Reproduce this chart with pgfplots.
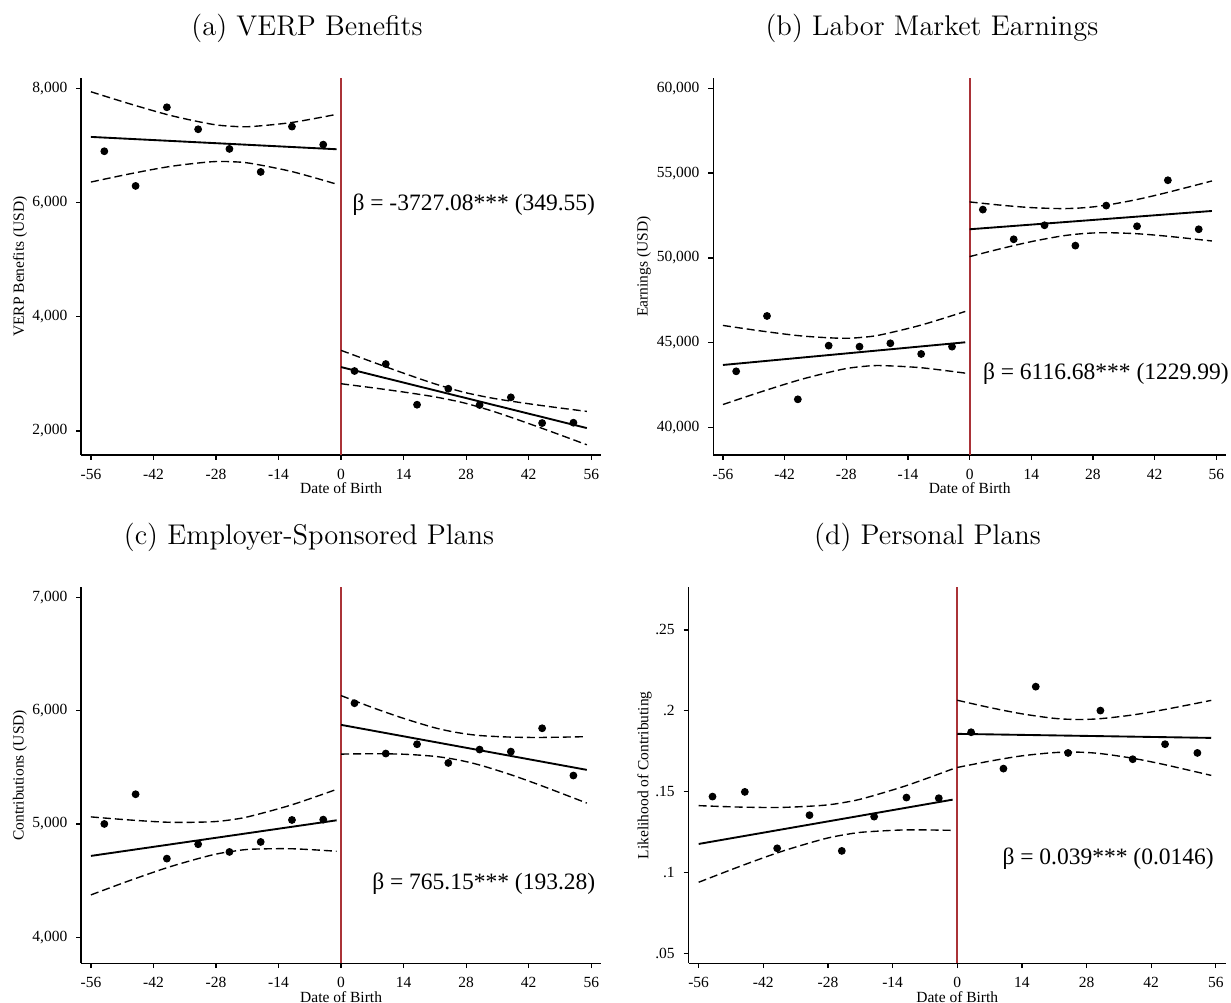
\documentclass[border=0pt]{standalone}
\usepackage{pgfplots}
\pgfplotsset{compat=1.18}
\usepackage{fontspec}
\newfontfamily\timesfont{Liberation Serif}
\definecolor{vred}{RGB}{170,50,55}
\pgfplotsset{
  myax/.style={
    scale only axis, anchor=south west,
    xmin=-58.2, xmax=58.2,
    scaled y ticks=false, scaled x ticks=false,
    axis x line*=bottom, axis y line*=left,
    axis line style={line width=0.5pt, -},
    tick align=outside, major tick length=2pt,
    tick style={line width=0.5pt, black},
    xtick={-56,-42,-28,-14,0,14,28,42,56},
    xticklabels={-56,-42,-28,-14,0,14,28,42,56},
    tick label style={font=\timesfont\fontsize{6.2}{7}\selectfont},
    label style={font=\timesfont\fontsize{6.2}{7}\selectfont},
    xlabel={Date of Birth},
    xlabel style={at={(axis description cs:0.5,-0.0876)}, anchor=center},
    ylabel style={anchor=center},
  },
  pts/.style={only marks, mark=*, mark size=1.35pt, black},
  fitl/.style={black, line width=0.75pt, no markers},
  cil/.style={black, line width=0.55pt, dash pattern=on 3.2pt off 1.6pt, smooth, no markers},
  redl/.style={color=vred, line width=0.8pt, no markers},
}
\newcommand\btext[1]{\timesfont\fontsize{9.4}{11}\selectfont #1}
\newcommand\ttext[1]{\fontsize{11.4}{13}\selectfont #1}
\begin{document}
\begin{tikzpicture}
\useasboundingbox (0,0) rectangle (492.4pt,401.2pt);
% (a)
\begin{axis}[myax, at={(32.44pt,219.2pt)}, width=208pt, height=150.7pt,
  ymin=1580, ymax=8175, ytick={2000,4000,6000,8000},
  yticklabels={{2,000},{4,000},{6,000},{8,000}},
  ylabel={VERP Benefits (USD)}, ylabel style={at={(axis description cs:-0.1175,0.5)}}]
\addplot[redl] coordinates {(0,1580) (0,8175)};
\addplot[cil] coordinates {(-56,7938) (-47,7720) (-38,7520) (-29,7371) (-24,7332) (-20,7330) (-11,7401) (-1,7543)};
\addplot[cil] coordinates {(-56,6358) (-47,6506) (-38,6634) (-29,6713) (-24,6712) (-20,6682) (-11,6541) (-1,6321)};
\addplot[cil] coordinates {(0,3411) (7,3209) (14,3012) (21,2825) (27.5,2678) (34,2573) (41,2488) (48,2413) (55,2343)};
\addplot[cil] coordinates {(0,2827) (7,2757) (14,2682) (21,2597) (27.5,2492) (34,2345) (41,2158) (48,1961) (55,1759)};
\addplot[fitl] coordinates {(-56,7148) (-1,6932)};
\addplot[fitl] coordinates {(0,3119) (55,2051)};
\addplot[pts] coordinates {(-53,6897) (-46,6290) (-39,7667) (-32,7282) (-25,6938) (-18,6535) (-11,7329) (-4,7013)};
\addplot[pts] coordinates {(3,3050) (10,3172) (17,2460) (24,2740) (31,2455) (38,2589) (45,2139) (52,2145)};
\end{axis}
% (b)
\begin{axis}[myax, at={(285.3pt,219.2pt)}, width=205.1pt, height=150.7pt,
  ymin=38390, ymax=60589, ytick={40000,45000,50000,55000,60000},
  yticklabels={{40,000},{45,000},{50,000},{55,000},{60,000}},
  ylabel={Earnings (USD)}, ylabel style={at={(axis description cs:-0.135,0.5)}}]
\addplot[redl] coordinates {(0,38390) (0,60589)};
\addplot[cil] coordinates {(-56,46024) (-47,45685) (-38,45400) (-29,45266) (-24,45332) (-20,45480) (-11,46045) (-1,46847)};
\addplot[cil] coordinates {(-56,41364) (-47,42141) (-38,42862) (-29,43434) (-24,43612) (-20,43658) (-11,43531) (-1,43213)};
\addplot[cil] coordinates {(0,53301) (7,53112) (14,52966) (21,52908) (26,52960) (31,53108) (38,53444) (45,53867) (55,54536)};
\addplot[cil] coordinates {(0,50079) (7,50542) (14,50962) (21,51296) (26,51440) (31,51488) (38,51426) (45,51277) (55,51000)};
\addplot[fitl] coordinates {(-56,43694) (-1,45030)};
\addplot[fitl] coordinates {(0,51690) (55,52768)};
\addplot[pts] coordinates {(-53,43320) (-46,46582) (-39,41670) (-32,44833) (-25,44774) (-18,44971) (-11,44342) (-4,44774)};
\addplot[pts] coordinates {(3,52849) (10,51100) (17,51925) (24,50727) (31,53085) (38,51867) (45,54578) (52,51690)};
\end{axis}
% (c)
\begin{axis}[myax, at={(32.44pt,15.9pt)}, width=208pt, height=150.4pt,
  ymin=3771, ymax=7088, ytick={4000,5000,6000,7000},
  yticklabels={{4,000},{5,000},{6,000},{7,000}},
  ylabel={Contributions (USD)}, ylabel style={at={(axis description cs:-0.1175,0.5)}},
  xlabel style={at={(axis description cs:0.5,-0.0888)}}]
\addplot[redl] coordinates {(0,3771) (0,7088)};
\addplot[cil] coordinates {(-56,5062) (-47,5034) (-38,5014) (-29,5019) (-24,5040) (-20,5071) (-11,5169) (-1,5305)};
\addplot[cil] coordinates {(-56,4374) (-47,4505) (-38,4626) (-29,4725) (-24,4760) (-20,4777) (-11,4781) (-1,4759)};
\addplot[cil] coordinates {(0,6132) (7,6027) (14,5931) (21,5848) (26,5806) (31,5780) (38,5766) (45,5763) (55,5770)};
\addplot[cil] coordinates {(0,5616) (7,5619) (14,5615) (21,5596) (26,5566) (31,5520) (38,5434) (45,5335) (55,5184)};
\addplot[fitl] coordinates {(-56,4718) (-1,5032)};
\addplot[fitl] coordinates {(0,5874) (55,5477)};
\addplot[pts] coordinates {(-53,5000) (-46,5262) (-39,4694) (-32,4821) (-25,4753) (-18,4841) (-11,5035) (-4,5038)};
\addplot[pts] coordinates {(3,6065) (10,5621) (17,5703) (24,5538) (31,5656) (38,5638) (45,5844) (52,5427)};
\end{axis}
% (d)
\begin{axis}[myax, at={(275.4pt,15.9pt)}, width=215pt, height=150.4pt,
  ymin=0.0438, ymax=0.2764, ytick={0.05,0.1,0.15,0.2,0.25},
  yticklabels={.05,.1,.15,.2,.25},
  ylabel={Likelihood of Contributing}, ylabel style={at={(axis description cs:-0.0819,0.5)}},
  xlabel style={at={(axis description cs:0.5,-0.0888)}}]
\addplot[redl] coordinates {(0,0.0438) (0,0.2764)};
\addplot[cil] coordinates {(-56,.1413) (-47,.1404) (-38,.1402) (-29,.1415) (-24,.1435) (-20,.1460) (-11,.1537) (-1,.1640)};
\addplot[cil] coordinates {(-56,.0939) (-47,.1038) (-38,.1130) (-29,.1206) (-24,.1235) (-20,.1250) (-11,.1263) (-1,.1260)};
\addplot[cil] coordinates {(0,.2065) (7,.2020) (14,.1981) (21,.1953) (26,.1946) (31,.1951) (38,.1974) (45,.2008) (55,.2064)};
\addplot[cil] coordinates {(0,.1649) (7,.1688) (14,.1721) (21,.1741) (26,.1744) (31,.1735) (38,.1706) (45,.1666) (55,.1600)};
\addplot[fitl] coordinates {(-56,.1176) (-1,.1450)};
\addplot[fitl] coordinates {(0,.1857) (55,.1832)};
\addplot[pts] coordinates {(-53,.1469) (-46,.1498) (-39,.1149) (-32,.1354) (-25,.1133) (-18,.1345) (-11,.1463) (-4,.1459)};
\addplot[pts] coordinates {(3,.1867) (10,.1642) (17,.2149) (24,.1739) (31,.2001) (38,.1700) (45,.1793) (52,.1739)};
\end{axis}
% annotations
\node[anchor=west, inner sep=0pt] at (140.8pt,319.2pt) {\btext{β = -3727.08*** (349.55)}};
\node[anchor=west, inner sep=0pt] at (393pt,251.9pt) {\btext{β = 6116.68*** (1229.99)}};
\node[anchor=west, inner sep=0pt] at (148.7pt,47.9pt) {\btext{β = 765.15*** (193.28)}};
\node[anchor=west, inner sep=0pt] at (400.8pt,57.9pt) {\btext{β = 0.039*** (0.0146)}};
% titles
\node[anchor=base, inner sep=0pt] at (122.8pt,386.8pt) {\ttext{(a) VERP Benefits}};
\node[anchor=base, inner sep=0pt] at (372.8pt,386.8pt) {\ttext{(b) Labor Market Earnings}};
\node[anchor=base, inner sep=0pt] at (123.6pt,183.2pt) {\ttext{(c) Employer-Sponsored Plans}};
\node[anchor=base, inner sep=0pt] at (371pt,183.2pt) {\ttext{(d) Personal Plans}};
\end{tikzpicture}
\end{document}
